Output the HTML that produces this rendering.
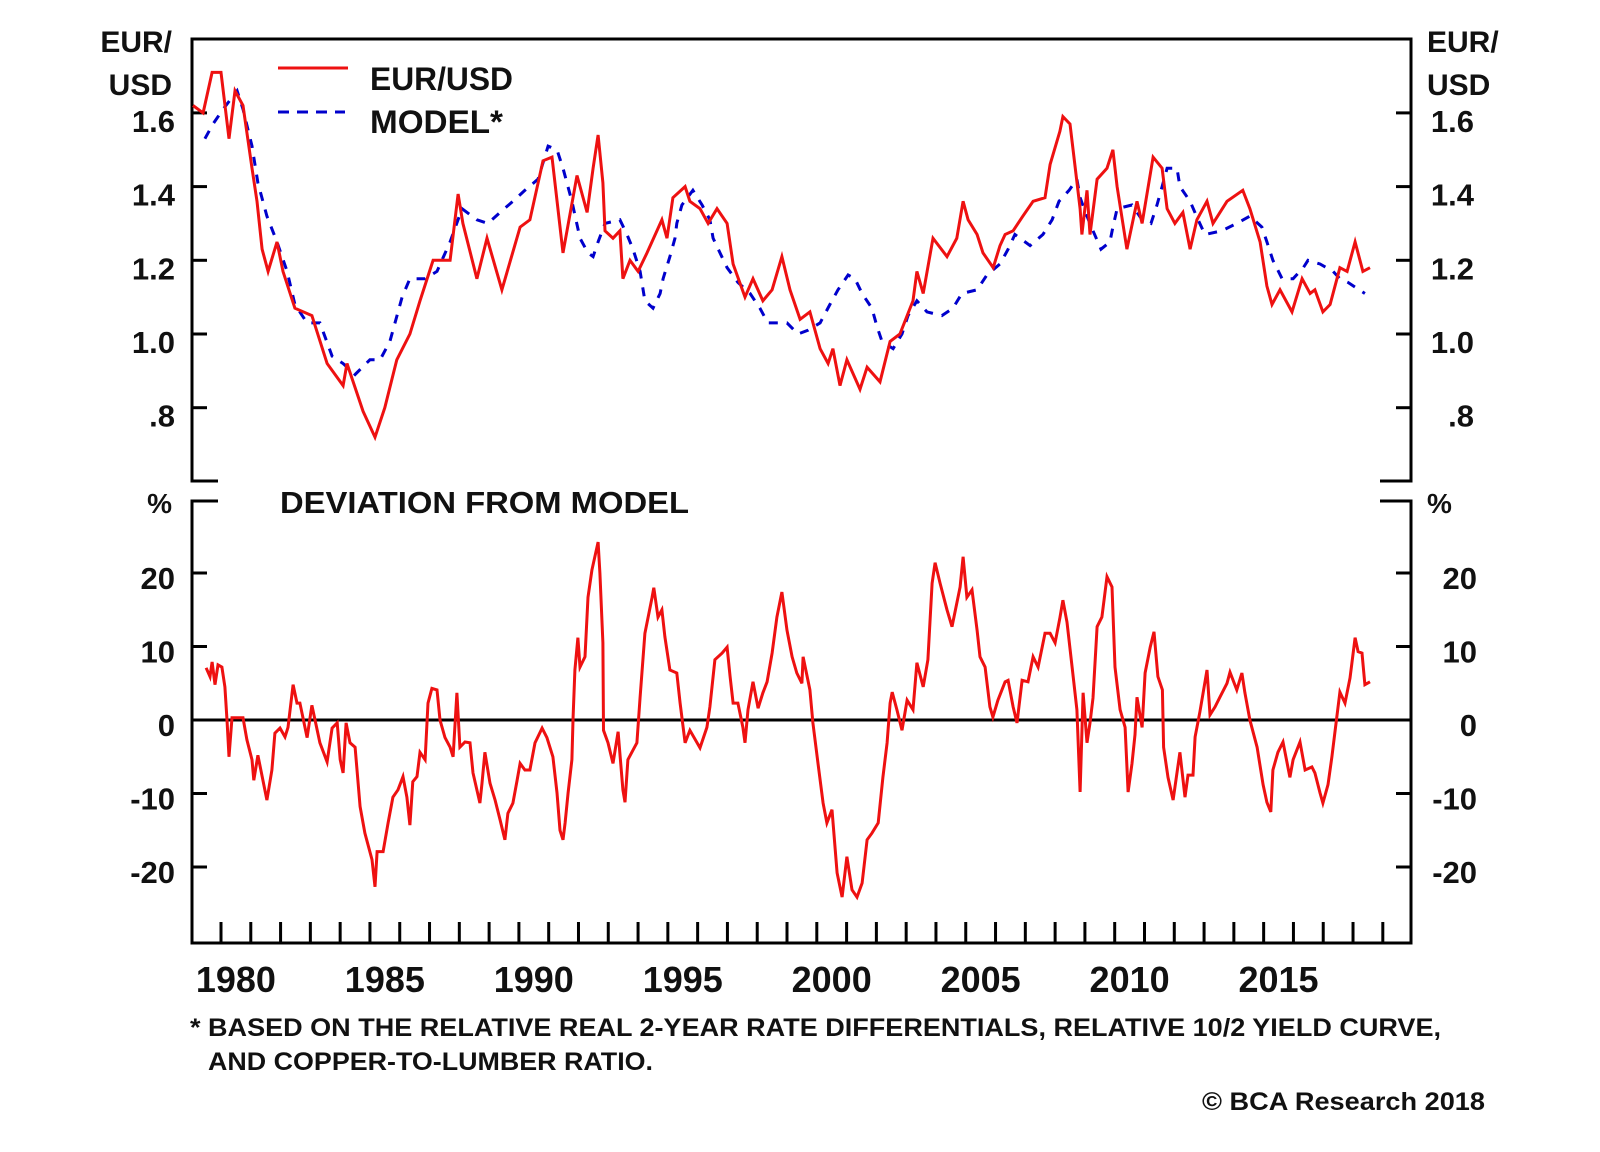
<!DOCTYPE html>
<html>
<head>
<meta charset="utf-8">
<style>
html,body{margin:0;padding:0;background:#fff;}
svg{display:block;}
text{font-family:"Liberation Sans",Arial,sans-serif;font-weight:bold;fill:#111;}
</style>
</head>
<body>
<svg id="chart" width="1600" height="1152" viewBox="0 0 1600 1152" xmlns="http://www.w3.org/2000/svg">
  <rect x="0" y="0" width="1600" height="1152" fill="#fff"/>
  <g id="frame" stroke="#000" stroke-width="3" fill="none">
    <path d="M218,481 L192,481 L192,39 L1411,39 L1411,481 L1380,481"/>
    <path d="M218,501 L192,501 L192,943 L1411,943 L1411,501 L1380,501"/>
  </g>
  <g id="axes"></g>
  <g id="series"></g>

  <text x="172" y="52" text-anchor="end" font-size="30">EUR/</text>
  <text x="172" y="95" text-anchor="end" font-size="30">USD</text>
  <text x="1427" y="52" font-size="30">EUR/</text>
  <text x="1427" y="95" font-size="30">USD</text>
  <text x="172" y="513" text-anchor="end" font-size="28">%</text>
  <text x="1427" y="513" font-size="28">%</text>

  <line x1="278" y1="68" x2="348" y2="68" stroke="#ee1111" stroke-width="3"/>
  <text x="370" y="90" font-size="32" textLength="143" lengthAdjust="spacingAndGlyphs">EUR/USD</text>
  <line x1="278" y1="112" x2="345" y2="112" stroke="#0000cc" stroke-width="3" stroke-dasharray="11,8"/>
  <text x="370" y="133" font-size="32" textLength="133" lengthAdjust="spacingAndGlyphs">MODEL*</text>
  <text x="280" y="513" font-size="31" textLength="409" lengthAdjust="spacingAndGlyphs">DEVIATION FROM MODEL</text>

  <text x="190" y="1036" font-size="25" textLength="1251" lengthAdjust="spacingAndGlyphs">* BASED ON THE RELATIVE REAL 2-YEAR RATE DIFFERENTIALS, RELATIVE 10/2 YIELD CURVE,</text>
  <text x="208" y="1070" font-size="25" textLength="445" lengthAdjust="spacingAndGlyphs">AND COPPER-TO-LUMBER RATIO.</text>
  <text x="1202" y="1110" font-size="25" textLength="283" lengthAdjust="spacingAndGlyphs">© BCA Research 2018</text>
</svg>
<script>
const eurT=[1979.06,1979.4,1979.7,1980.0,1980.27,1980.47,1980.74,1981.04,1981.21,1981.38,1981.58,1981.88,1982.08,1982.48,1983.05,1983.56,1984.1,1984.23,1984.77,1985.17,1985.5,1985.9,1986.34,1986.68,1987.12,1987.69,1987.96,1988.12,1988.59,1988.93,1989.43,1990.04,1990.37,1990.81,1991.11,1991.48,1991.95,1992.29,1992.49,1992.66,1992.82,1992.89,1993.16,1993.39,1993.49,1993.73,1994.0,1994.3,1994.8,1994.97,1995.17,1995.58,1995.74,1996.08,1996.35,1996.65,1996.99,1997.19,1997.59,1997.86,1998.19,1998.5,1998.83,1999.1,1999.44,1999.77,2000.11,2000.38,2000.54,2000.78,2001.01,2001.45,2001.69,2002.12,2002.46,2002.79,2003.23,2003.36,2003.57,2003.9,2004.37,2004.7,2004.91,2005.08,2005.38,2005.58,2005.92,2006.15,2006.32,2006.59,2006.92,2007.26,2007.66,2007.83,2008.16,2008.26,2008.5,2008.84,2008.9,2009.07,2009.17,2009.41,2009.74,2009.94,2010.08,2010.41,2010.75,2010.92,2011.29,2011.59,2011.76,2012.02,2012.29,2012.53,2012.76,2013.1,2013.3,2013.77,2014.3,2014.54,2014.88,2015.11,2015.28,2015.55,2015.95,2016.29,2016.56,2016.72,2016.99,2017.23,2017.56,2017.8,2018.07,2018.33,2018.57];
const eurV=[1.62,1.60,1.71,1.71,1.53,1.66,1.62,1.45,1.36,1.23,1.17,1.25,1.17,1.07,1.05,0.92,0.86,0.92,0.79,0.72,0.80,0.93,1.00,1.09,1.20,1.20,1.38,1.30,1.15,1.26,1.12,1.29,1.31,1.47,1.48,1.22,1.43,1.33,1.45,1.54,1.41,1.28,1.26,1.28,1.15,1.20,1.17,1.22,1.31,1.26,1.37,1.40,1.36,1.34,1.30,1.34,1.30,1.19,1.10,1.15,1.09,1.12,1.21,1.12,1.04,1.06,0.96,0.92,0.96,0.86,0.93,0.85,0.91,0.87,0.98,1.00,1.09,1.17,1.11,1.26,1.21,1.26,1.36,1.31,1.27,1.22,1.18,1.24,1.27,1.28,1.32,1.36,1.37,1.46,1.55,1.59,1.57,1.34,1.27,1.39,1.27,1.42,1.45,1.50,1.40,1.23,1.36,1.30,1.48,1.45,1.34,1.30,1.33,1.23,1.31,1.36,1.30,1.36,1.39,1.34,1.25,1.13,1.08,1.12,1.06,1.15,1.11,1.12,1.06,1.08,1.18,1.17,1.25,1.17,1.18];
const modT=[1979.46,1979.73,1980.07,1980.54,1980.74,1981.04,1981.24,1981.54,1981.88,1982.22,1982.48,1982.89,1983.32,1983.73,1984.1,1984.5,1985.0,1985.34,1985.67,1986.08,1986.34,1986.85,1987.25,1987.69,1988.09,1988.59,1988.96,1989.37,1989.8,1990.2,1990.64,1990.98,1991.28,1991.48,1991.78,1992.05,1992.32,1992.49,1992.66,1992.89,1993.39,1993.63,1993.83,1994.07,1994.23,1994.5,1994.74,1994.84,1995.07,1995.24,1995.3,1995.47,1995.84,1996.15,1996.41,1996.52,1996.75,1996.99,1997.35,1997.76,1998.09,1998.36,1999.0,1999.37,1999.7,2000.11,2000.44,2000.71,2001.05,2001.28,2001.52,2001.85,2002.02,2002.19,2002.56,2002.86,2003.06,2003.36,2003.7,2004.2,2004.57,2004.87,2005.38,2005.71,2006.15,2006.42,2006.65,2007.16,2007.59,2007.9,2008.13,2008.47,2008.73,2008.84,2009.07,2009.27,2009.54,2009.84,2009.94,2010.08,2010.58,2010.92,2011.22,2011.42,2011.59,2011.76,2012.09,2012.19,2012.53,2012.8,2013.03,2013.6,2014.1,2014.54,2014.94,2015.11,2015.31,2015.62,2015.99,2016.33,2016.49,2016.89,2017.33,2017.56,2017.83,2018.4];
const modV=[1.53,1.57,1.61,1.66,1.61,1.51,1.41,1.32,1.25,1.17,1.08,1.03,1.03,0.94,0.92,0.89,0.93,0.93,0.98,1.10,1.15,1.15,1.17,1.25,1.34,1.31,1.30,1.33,1.36,1.39,1.42,1.51,1.50,1.45,1.36,1.26,1.22,1.21,1.25,1.30,1.31,1.27,1.23,1.17,1.09,1.07,1.11,1.15,1.21,1.26,1.30,1.35,1.39,1.35,1.31,1.26,1.22,1.18,1.14,1.11,1.07,1.03,1.03,1.00,1.01,1.03,1.08,1.12,1.16,1.15,1.11,1.07,1.02,0.98,0.96,1.00,1.05,1.09,1.06,1.05,1.07,1.11,1.12,1.16,1.19,1.23,1.27,1.24,1.27,1.31,1.36,1.39,1.42,1.37,1.32,1.28,1.23,1.25,1.29,1.34,1.35,1.31,1.30,1.35,1.40,1.45,1.45,1.40,1.36,1.31,1.27,1.28,1.30,1.32,1.29,1.25,1.20,1.15,1.15,1.18,1.20,1.19,1.17,1.15,1.14,1.11];
const devT=[1979.5,1979.63,1979.7,1979.8,1979.9,1980.03,1980.13,1980.2,1980.27,1980.37,1980.74,1980.87,1981.04,1981.1,1981.24,1981.54,1981.71,1981.81,1981.98,1982.15,1982.25,1982.42,1982.55,1982.65,1982.89,1983.05,1983.32,1983.56,1983.73,1983.9,1984.0,1984.1,1984.2,1984.33,1984.5,1984.67,1984.83,1985.07,1985.17,1985.24,1985.44,1985.61,1985.77,1985.94,1986.11,1986.24,1986.34,1986.44,1986.58,1986.68,1986.85,1986.95,1987.08,1987.25,1987.35,1987.52,1987.69,1987.79,1987.92,1988.02,1988.19,1988.36,1988.46,1988.69,1988.76,1988.86,1989.03,1989.2,1989.37,1989.53,1989.63,1989.8,1989.94,1990.04,1990.2,1990.37,1990.54,1990.78,1990.94,1991.14,1991.28,1991.38,1991.48,1991.55,1991.65,1991.78,1991.82,1991.88,1991.98,1992.05,1992.22,1992.32,1992.45,1992.66,1992.72,1992.82,1992.84,1992.99,1993.16,1993.33,1993.49,1993.56,1993.66,1993.96,1994.07,1994.23,1994.47,1994.53,1994.67,1994.8,1994.9,1995.07,1995.3,1995.41,1995.58,1995.74,1996.08,1996.31,1996.41,1996.58,1996.82,1996.99,1997.09,1997.19,1997.35,1997.52,1997.59,1997.69,1997.86,1998.03,1998.19,1998.33,1998.5,1998.66,1998.83,1999.0,1999.17,1999.33,1999.5,1999.54,1999.77,1999.87,2000.04,2000.21,2000.34,2000.51,2000.68,2000.85,2001.01,2001.18,2001.35,2001.52,2001.69,2001.85,2002.06,2002.22,2002.36,2002.46,2002.53,2002.69,2002.86,2003.03,2003.23,2003.36,2003.57,2003.73,2003.87,2003.97,2004.14,2004.37,2004.54,2004.81,2004.91,2005.04,2005.21,2005.38,2005.48,2005.65,2005.81,2005.91,2006.08,2006.32,2006.42,2006.59,2006.72,2006.89,2007.09,2007.26,2007.43,2007.66,2007.83,2008.0,2008.16,2008.26,2008.4,2008.57,2008.73,2008.84,2008.94,2009.07,2009.17,2009.27,2009.41,2009.57,2009.74,2009.91,2010.01,2010.18,2010.35,2010.45,2010.58,2010.68,2010.75,2010.92,2011.02,2011.19,2011.32,2011.45,2011.6,2011.64,2011.79,2011.96,2012.19,2012.36,2012.46,2012.63,2012.7,2012.86,2013.1,2013.2,2013.37,2013.53,2013.77,2013.87,2014.1,2014.27,2014.37,2014.54,2014.78,2014.98,2015.11,2015.24,2015.31,2015.48,2015.65,2015.88,2015.99,2016.22,2016.39,2016.62,2016.72,2016.89,2016.99,2017.16,2017.29,2017.39,2017.56,2017.73,2017.9,2018.07,2018.17,2018.3,2018.4,2018.57];
const devV=[7.1,5.9,7.9,4.8,7.5,7.2,4.5,0,-5.0,0.3,0.3,-2.7,-5.4,-8.2,-4.8,-10.9,-6.8,-1.8,-1.1,-2.3,-1.0,4.8,2.3,2.3,-2.4,2.0,-3.1,-5.7,-1.1,-0.4,-5.4,-7.2,-0.4,-3.1,-3.7,-11.8,-15.4,-19.0,-22.7,-17.9,-17.9,-14.0,-10.5,-9.5,-7.7,-10.5,-14.3,-8.4,-7.7,-4.4,-5.4,2.3,4.3,4.1,0,-2.4,-3.7,-5.0,3.7,-3.7,-3.0,-3.1,-7.2,-11.3,-8.6,-4.4,-8.6,-10.9,-13.6,-16.3,-12.7,-11.3,-8.2,-5.9,-6.8,-6.8,-3.1,-1.1,-2.4,-5.0,-9.9,-15.0,-16.3,-14.0,-9.9,-5.4,0.4,6.8,11.2,7.2,8.6,16.7,20.4,24.2,20.0,10.5,-1.4,-3.1,-5.9,-1.6,-9.5,-11.2,-5.4,-3.1,3.1,11.8,16.7,18.0,14.0,15.0,11.3,6.8,6.4,2.3,-3.1,-1.4,-3.8,-1.0,1.8,8.2,9.1,9.9,5.9,2.3,2.3,-1.0,-3.1,1.4,5.2,1.6,3.7,5.2,9.1,14.0,17.4,12.2,8.6,6.4,5.0,8.6,4.1,-0.4,-5.9,-11.3,-14.0,-12.2,-20.8,-24.1,-18.6,-23.1,-24.1,-22.2,-16.3,-15.4,-14.0,-7.8,-3.1,2.3,3.8,1.4,-1.4,2.7,1.4,7.8,4.5,8.2,18.6,21.4,18.6,15.0,12.7,18.1,22.2,16.7,17.7,12.2,8.6,7.2,1.8,0.4,2.7,5.2,5.4,1.8,-0.4,5.4,5.2,8.6,7.2,11.8,11.8,10.5,13.9,16.3,13.3,7.2,1.4,-9.8,3.7,-3.1,-0.4,3.0,12.7,14.0,19.5,18.1,7.2,1.4,-1.0,-9.8,-5.9,-2.0,3.1,-1.0,6.4,9.9,12.0,5.9,4.1,-3.7,-7.8,-10.9,-4.4,-10.5,-7.5,-7.5,-2.3,1.1,6.8,0.7,1.8,3.1,5.0,6.5,4.1,6.4,3.7,0,-3.7,-8.8,-11.2,-12.5,-6.8,-4.4,-3.0,-7.8,-5.4,-3.0,-6.8,-6.4,-7.2,-9.9,-11.3,-8.8,-5.0,-1.8,3.8,2.3,5.7,11.2,9.3,9.1,4.8,5.2];
const upperTicks=[0.8,1.0,1.2,1.4,1.6];
const upperTickLabels=[".8","1.0","1.2","1.4","1.6"];
const lowerTicks=[-20,-10,0,10,20];
const lowerTickLabels=["-20","-10","0","10","20"];
const yearLabels=[1980,1985,1990,1995,2000,2005,2010,2015];

const NS="http://www.w3.org/2000/svg";
function xScale(t){return 221+(t-1980)*29.79;}
function yUpper(v){return 334-(v-1.0)*368.5;}
function yLower(d){return 720-d*7.35;}
function mk(tag,attrs,parent){const e=document.createElementNS(NS,tag);for(const k in attrs)e.setAttribute(k,attrs[k]);parent.appendChild(e);return e;}

const axes=document.getElementById('axes');
upperTicks.forEach((v,i)=>{
  const y=yUpper(v);
  const l1=mk('line',{x1:192,y1:y,x2:207,y2:y,stroke:'#000','stroke-width':3},axes);
  
  
  const l2=mk('line',{x1:1396,y1:y,x2:1411,y2:y,stroke:'#000','stroke-width':3},axes);
  
  
  const t1=mk('text',{x:175,y:y+19,'text-anchor':'end','font-size':31},axes);
  t1.textContent=upperTickLabels[i];
  
  
  const t2=mk('text',{x:1474,y:y+19,'text-anchor':'end','font-size':31},axes);
  t2.textContent=upperTickLabels[i];
  
  
});
lowerTicks.forEach((d,i)=>{
  const y=yLower(d);
  if(d!==0){
    const l1=mk('line',{x1:192,y1:y,x2:207,y2:y,stroke:'#000','stroke-width':3},axes);
    
    
    const l2=mk('line',{x1:1396,y1:y,x2:1411,y2:y,stroke:'#000','stroke-width':3},axes);
    
    
  }
  const t1=mk('text',{x:175,y:y+16,'text-anchor':'end','font-size':31},axes);
  t1.textContent=lowerTickLabels[i];
  
  
  const t2=mk('text',{x:1477,y:y+16,'text-anchor':'end','font-size':31},axes);
  t2.textContent=lowerTickLabels[i];
  
  
});
for(let yr=1980;yr<=2019;yr++){
  const x=xScale(yr);
  const l=mk('line',{x1:x,y1:922,x2:x,y2:943,stroke:'#000','stroke-width':3},axes);
  
  
}
yearLabels.forEach(yr=>{
  const t=mk('text',{x:xScale(yr+0.5),y:992,'text-anchor':'middle','font-size':36},axes);
  t.textContent=String(yr);
  
  
});

const series=document.getElementById('series');
const zero=mk('line',{x1:192,y1:yLower(0),x2:1411,y2:yLower(0),stroke:'#000','stroke-width':3},series);



function pts(T,V,ys){return T.map((t,i)=>xScale(t).toFixed(1)+','+ys(V[i]).toFixed(1)).join(' ');}
const model=mk('polyline',{points:pts(modT,modV,yUpper),fill:'none',stroke:'#0000cc','stroke-width':3,'stroke-dasharray':'9,9'},series);


const eur=mk('polyline',{points:pts(eurT,eurV,yUpper),fill:'none',stroke:'#ee1111','stroke-width':3,'stroke-linejoin':'miter'},series);


const dev=mk('polyline',{points:pts(devT,devV,yLower),fill:'none',stroke:'#ee1111','stroke-width':3},series);


</script>
</body>
</html>
